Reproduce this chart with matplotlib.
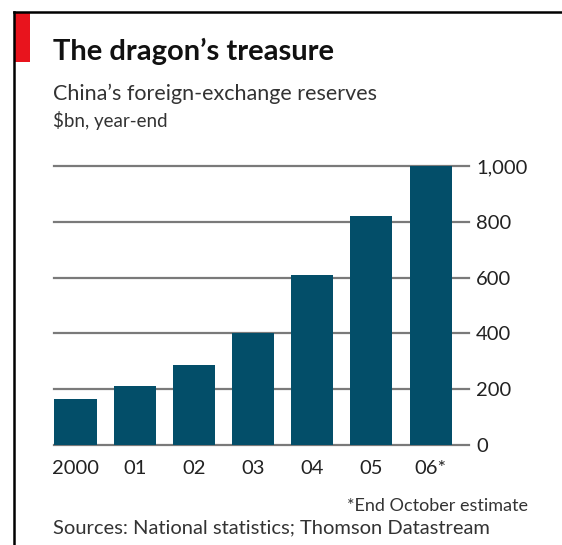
import matplotlib.pyplot as plt
from matplotlib.patches import Rectangle
from matplotlib.lines import Line2D

# China's foreign-exchange reserves, $bn, year-end
years = ["2000", "01", "02", "03", "04", "05", "06*"]
reserves = [166, 213, 288, 403, 610, 819, 1000]
yticks = [0, 200, 400, 600, 800, 1000]
ytick_labels = ["0", "200", "400", "600", "800", "1,000"]

W, H = 562, 545
plt.rcParams['font.family'] = ['Lato', 'DejaVu Sans']

fig = plt.figure(figsize=(W / 100, H / 100), dpi=100)

def fx(px):
    return px / W

def fy(py):
    return 1 - py / H

# plot area: 0 at y=445px, 1000 at y=166px
x_left, x_right = -0.36, 6.65
ax = fig.add_axes([fx(54.2), fy(445), fx(469) - fx(54.2), fy(166) - fy(445)])
ax.set_xlim(x_left, x_right)
ax.set_ylim(0, 1000)

for t in yticks:
    ax.axhline(t, color='#7a7a7a', lw=1.6, zorder=1, clip_on=False)

ax.bar(range(len(years)), reserves, width=0.71, color='#034e69', zorder=2)

ax.set_xticks(range(len(years)))
ax.set_xticklabels(years)
ax.set_yticks(yticks)
ax.set_yticklabels(ytick_labels)
ax.yaxis.tick_right()
ax.tick_params(axis='both', length=0, labelsize=14.5, colors='#222222')
ax.tick_params(axis='x', pad=11)
ax.tick_params(axis='y', pad=5)
for s in ax.spines.values():
    s.set_visible(False)
ax.set_facecolor('none')

# header
fig.text(fx(53), fy(60), "The dragon\u2019s treasure", fontsize=21, fontweight='bold',
         color='#111111', va='baseline')
fig.text(fx(53), fy(100), "China\u2019s foreign-exchange reserves", fontsize=15.5,
         color='#333333', va='baseline')
fig.text(fx(53), fy(127), "$bn, year-end", fontsize=13.5, color='#333333', va='baseline')

# footer
fig.text(fx(528), fy(511), "*End October estimate", fontsize=13, color='#333333',
         ha='right', va='baseline')
fig.text(fx(53), fy(533), "Sources: National statistics; Thomson Datastream", fontsize=14.5,
         color='#333333', va='baseline')

# frame and red tab
fig.add_artist(Line2D([fx(14), fx(14)], [fy(12), 0], color='black', lw=1.8))
fig.add_artist(Line2D([fx(14), 1], [fy(12), fy(12)], color='black', lw=1.8))
fig.add_artist(Rectangle((fx(14), fy(62)), fx(16), fy(12) - fy(62), color='#e8141d', lw=0))

fig.savefig('out.png', dpi=100)
